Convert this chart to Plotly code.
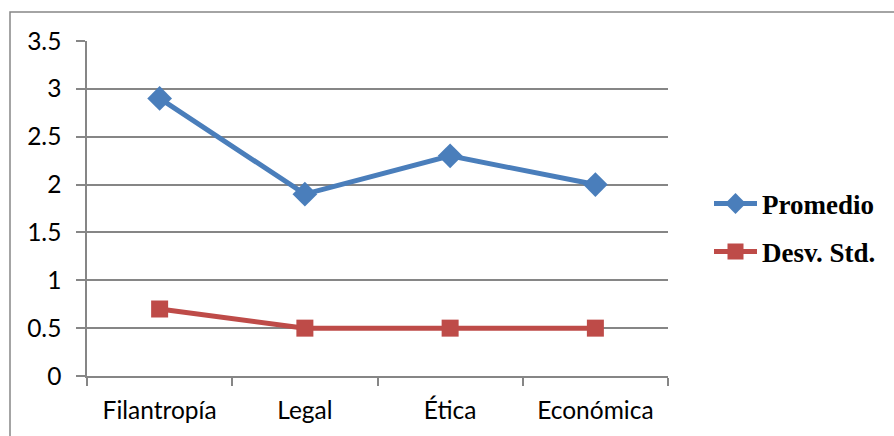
import plotly.graph_objects as go

categories = ["Filantropía", "Legal", "Ética", "Económica"]
promedio = [2.9, 1.9, 2.3, 2.0]
desv_std = [0.7, 0.5, 0.5, 0.5]
y_ticks = [0, 0.5, 1, 1.5, 2, 2.5, 3, 3.5]
y_tick_labels = ["0", "0.5", "1", "1.5", "2", "2.5", "3", "3.5"]

fig = go.Figure()
fig.add_trace(go.Scatter(
    x=categories, y=promedio, name="Promedio", mode="lines+markers",
    legendgroup="a",
    line=dict(color="#4A7EBB", width=5),
    marker=dict(symbol="diamond", size=19, color="#4A7EBB"),
))
fig.add_trace(go.Scatter(
    x=categories, y=desv_std, name="Desv. Std.", mode="lines+markers",
    legendgroup="b",
    line=dict(color="#BE4B48", width=5),
    marker=dict(symbol="square", size=17, color="#BE4B48"),
))

axis_color = "#868686"
fig.update_layout(
    width=894, height=436,
    margin=dict(l=87, r=226, t=41, b=60),
    paper_bgcolor="white", plot_bgcolor="white",
    font=dict(family="Lato, Carlito, sans-serif", size=24.5, color="black"),
    xaxis=dict(
        type="category", tickson="boundaries", ticks="outside", ticklen=8,
        tickcolor=axis_color, tickwidth=1.5, showgrid=False,
        showline=True, linecolor=axis_color, linewidth=1.5,
        range=[-0.5, 3.5], tickfont=dict(size=24.5), ticklabelstandoff=12,
    ),
    yaxis=dict(
        range=[0, 3.5], tickvals=y_ticks, ticktext=y_tick_labels,
        ticks="outside", ticklen=9, tickcolor=axis_color, tickwidth=1.5,
        showgrid=True, gridcolor=axis_color, gridwidth=1.5,
        showline=True, linecolor=axis_color, linewidth=1.5,
        zeroline=False, tickfont=dict(size=24.5), ticklabelstandoff=10,
    ),
    legend=dict(
        x=(709-87)/581, y=0.442, xanchor="left", yanchor="middle",
        font=dict(family="Liberation Serif, serif", size=27, color="black", weight="bold"),
        itemsizing="trace", itemwidth=43, tracegroupgap=10,
        bgcolor="rgba(0,0,0,0)",
    ),
    showlegend=True,
)
fig.add_shape(type="rect", xref="paper", yref="paper",
              x0=-77/581, x1=1.5, y0=-1, y1=(376-12)/335,
              line=dict(color=axis_color, width=1.5), fillcolor="rgba(0,0,0,0)", layer="below")

fig.write_html("out.html")
